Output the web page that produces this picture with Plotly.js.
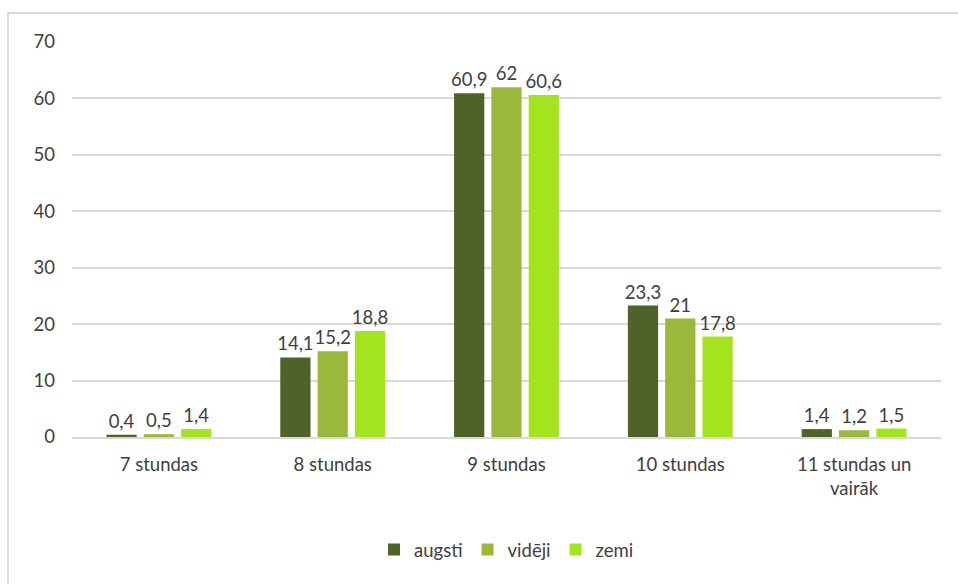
<!DOCTYPE html>
<html>
<head>
<meta charset="utf-8">
<script src="https://cdn.plot.ly/plotly-3.0.1.min.js"></script>
<style>
html,body{margin:0;padding:0;background:#fff;overflow:hidden;}
#chart{position:absolute;left:0;top:0;width:958px;height:584px;}
#frame{position:absolute;left:7px;top:12px;width:960px;height:580px;border-left:2px solid #d9d9d9;border-top:2px solid #d9d9d9;pointer-events:none;}
</style>
</head>
<body>
<div id="chart"></div>
<div id="frame"></div>
<script>
const categories = ['7 stundas', '8 stundas', '9 stundas', '10 stundas', '11 stundas un<br>vairāk'];
const seriesNames = ['augsti', 'vidēji', 'zemi'];
const augsti = [0.4, 14.1, 60.9, 23.3, 1.4];
const videji = [0.5, 15.2, 62, 21, 1.2];
const zemi = [1.4, 18.8, 60.6, 17.8, 1.5];
const colors = ['#4f6228', '#9bb83a', '#a3e41f'];
const yTicks = [0, 10, 20, 30, 40, 50, 60, 70];

const fmt = v => String(v).replace('.', ',');
const font = "Lato, 'Open Sans', sans-serif";

const traces = [augsti, videji, zemi].map((vals, i) => ({
  type: 'bar',
  name: seriesNames[i],
  x: categories,
  y: vals,
  text: vals.map(fmt),
  textposition: 'outside',
  constraintext: 'none',
  textangle: 0,
  cliponaxis: false,
  textfont: {family: font, size: 18.5, color: '#404040'},
  marker: {color: colors[i]},
  hoverinfo: 'x+y'
}));

const layout = {
  width: 958,
  height: 584,
  margin: {l: 72, r: 17, t: 42, b: 147},
  paper_bgcolor: 'rgba(0,0,0,0)',
  plot_bgcolor: 'rgba(0,0,0,0)',
  barmode: 'group',
  bargap: 0.356,
  bargroupgap: 0.19,
  separators: ',.',
  font: {family: font, size: 18.5, color: '#404040'},
  showlegend: true,
  legend: {
    orientation: 'h',
    x: 0.5, xanchor: 'center',
    y: -0.286, yanchor: 'middle',
    font: {family: font, size: 18.5, color: '#404040'},
    itemwidth: 30,
    traceorder: 'normal'
  },
  xaxis: {
    type: 'category',
    showgrid: false,
    showline: true,
    linecolor: '#d9d9d9',
    linewidth: 2,
    ticks: '',
    ticklabelstandoff: 10,
    tickfont: {family: font, size: 18.5, color: '#404040'},
    fixedrange: true
  },
  yaxis: {
    range: [0, 70],
    tickvals: yTicks,
    ticktext: yTicks.map(String),
    showgrid: true,
    gridcolor: '#d9d9d9',
    gridwidth: 2,
    zeroline: false,
    showline: false,
    ticks: '',
    ticklabelstandoff: 16,
    tickfont: {family: font, size: 18.5, color: '#404040'},
    fixedrange: true
  }
};

Plotly.newPlot('chart', traces, layout, {displayModeBar: false, staticPlot: true});
</script>
</body>
</html>
